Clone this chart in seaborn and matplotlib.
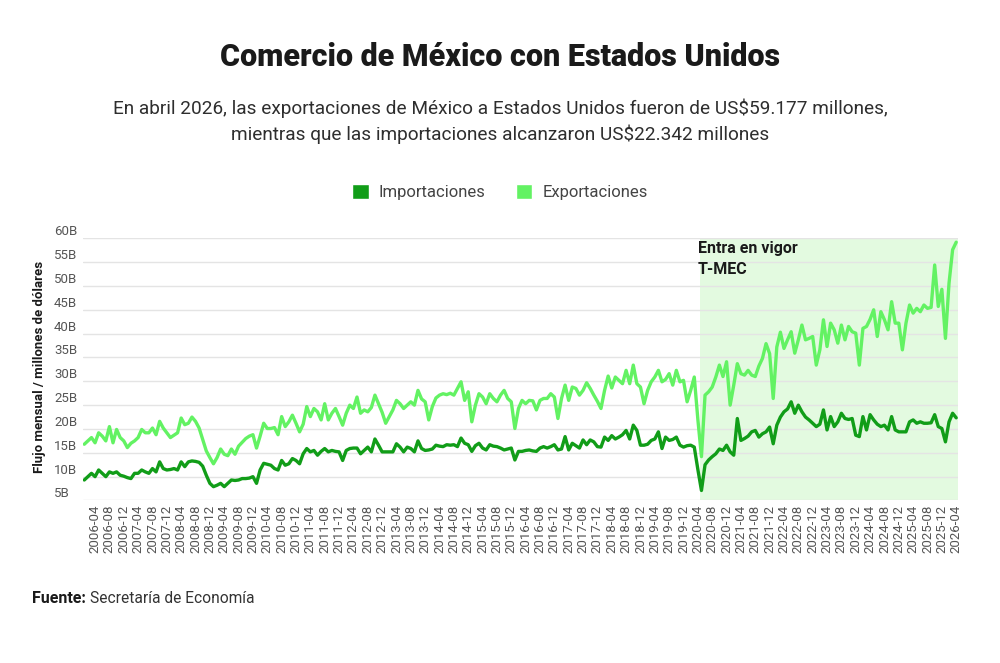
import matplotlib
matplotlib.use("Agg")

import pandas as pd

import matplotlib.pyplot as plt

import seaborn as sns

from matplotlib.patches import Patch


# ==========================
# DATOS (miles de millones de dólares por mes)
# ==========================

meses = pd.period_range("2006-01", "2026-04", freq="M").strftime("%Y-%m").tolist()

importaciones = [
    9.3, 10.0, 10.7, 10.0, 11.4, 10.7, 10.0, 11.0, 10.7, 11.0, 10.3, 10.1,  # 2006
    9.8, 9.6, 10.7, 10.7, 11.4, 11.0, 10.7, 11.7, 11.0, 13.1, 11.7, 11.4,  # 2007
    11.5, 11.7, 11.4, 13.1, 12.1, 13.1, 13.3, 13.2, 13.0, 12.2, 10.3, 8.6,  # 2008
    7.9, 8.2, 8.6, 7.9, 8.6, 9.3, 9.2, 9.3, 9.6, 9.6, 9.7, 10.0,  # 2009
    8.6, 11.4, 12.8, 12.6, 12.4, 11.7, 11.4, 13.4, 12.4, 12.7, 13.8, 13.4,  # 2010
    12.7, 14.8, 15.9, 15.2, 15.5, 14.5, 15.3, 15.9, 15.2, 15.5, 15.3, 15.2,  # 2011
    13.4, 15.5, 15.9, 16.0, 16.0, 14.8, 15.5, 16.2, 15.2, 17.9, 16.6, 15.2,  # 2012
    15.2, 15.2, 15.2, 16.9, 16.2, 15.2, 16.2, 15.9, 15.2, 17.5, 15.9, 15.5,  # 2013
    15.6, 15.8, 16.6, 16.4, 16.3, 16.7, 16.6, 16.7, 16.3, 18.1, 17.0, 16.7,  # 2014
    15.3, 16.5, 17.0, 16.0, 15.6, 16.7, 16.4, 16.3, 16.0, 15.6, 15.8, 16.0,  # 2015
    13.5, 15.3, 15.3, 15.5, 15.6, 15.4, 15.3, 16.0, 16.3, 16.0, 16.3, 16.7,  # 2016
    15.6, 15.8, 18.4, 15.6, 17.0, 16.5, 16.0, 17.7, 16.7, 17.7, 17.3, 16.3,  # 2017
    16.2, 18.3, 17.6, 18.6, 17.9, 18.3, 18.8, 19.7, 17.9, 20.8, 19.7, 16.6,  # 2018
    16.6, 16.8, 17.6, 17.9, 19.4, 15.9, 18.3, 17.6, 17.8, 18.3, 16.6, 16.2,  # 2019
    16.5, 16.6, 16.2, 11.5, 7.1, 12.5, 13.5, 14.2, 14.8, 15.8, 15.5, 16.6,  # 2020
    15.2, 14.5, 22.2, 17.6, 18.0, 18.5, 19.4, 19.7, 18.3, 19.0, 19.4, 20.4,  # 2021
    16.9, 20.8, 22.5, 23.6, 24.2, 25.7, 23.3, 25.0, 23.6, 22.5, 21.9, 21.2,  # 2022
    20.5, 21.0, 24.0, 19.8, 22.6, 20.5, 21.5, 23.3, 22.2, 22.0, 22.2, 18.7,  # 2023
    18.4, 22.6, 19.8, 23.0, 21.9, 21.0, 20.5, 20.8, 19.8, 22.6, 19.8, 19.4,  # 2024
    19.4, 19.4, 21.5, 21.9, 21.2, 21.5, 21.2, 21.2, 21.3, 23.0, 20.5, 20.1,  # 2025
    17.3, 21.5, 23.3, 22.342,  # 2026
]

exportaciones = [
    16.8, 17.5, 18.2, 17.1, 19.2, 18.5, 17.5, 20.5, 17.1, 19.9, 18.2, 17.5,  # 2006
    16.1, 17.0, 17.5, 18.2, 19.9, 19.2, 19.2, 20.2, 18.8, 21.6, 20.2, 19.2,  # 2007
    18.2, 18.7, 19.2, 22.3, 20.9, 21.2, 22.5, 21.6, 20.2, 17.8, 15.4, 14.0,  # 2008
    12.7, 14.0, 15.8, 14.7, 14.4, 15.8, 14.7, 16.4, 17.2, 18.0, 18.5, 18.8,  # 2009
    16.0, 18.5, 21.2, 20.1, 20.1, 20.3, 18.8, 22.6, 20.5, 21.5, 22.9, 21.2,  # 2010
    19.4, 21.0, 24.7, 22.6, 24.3, 23.6, 21.9, 25.3, 21.9, 23.3, 24.3, 22.6,  # 2011
    20.8, 23.3, 25.0, 24.3, 26.7, 23.3, 24.0, 23.6, 24.5, 27.1, 25.3, 23.5,  # 2012
    21.2, 22.6, 24.0, 26.0, 25.3, 24.3, 25.0, 25.7, 25.0, 28.1, 26.3, 25.7,  # 2013
    21.9, 24.7, 26.5, 27.1, 27.4, 27.2, 27.5, 27.1, 28.5, 29.9, 26.0, 27.8,  # 2014
    21.5, 25.0, 27.4, 26.7, 25.3, 27.4, 26.4, 25.7, 27.1, 28.1, 26.4, 25.7,  # 2015
    20.1, 24.3, 26.0, 25.3, 26.0, 25.9, 24.0, 26.0, 26.4, 26.4, 27.4, 26.7,  # 2016
    22.2, 26.4, 29.2, 26.0, 28.8, 28.5, 27.1, 28.1, 29.7, 28.5, 27.1, 25.8,  # 2017
    24.3, 28.1, 31.1, 28.6, 30.9, 30.2, 29.5, 32.3, 29.5, 33.4, 29.5, 28.8,  # 2018
    25.3, 28.1, 29.9, 30.9, 32.3, 29.9, 30.4, 31.6, 29.2, 32.3, 29.9, 30.2,  # 2019
    25.7, 28.1, 30.9, 22.0, 14.2, 27.1, 27.8, 28.8, 30.9, 33.4, 31.0, 34.1,  # 2020
    25.0, 29.2, 33.7, 31.6, 31.3, 32.3, 31.3, 31.0, 33.2, 34.8, 37.9, 35.8,  # 2021
    26.4, 37.2, 40.3, 36.9, 38.7, 40.4, 35.9, 38.7, 41.8, 38.7, 39.0, 39.4,  # 2022
    33.4, 36.6, 42.9, 37.3, 42.2, 40.8, 38.0, 41.8, 38.7, 41.5, 40.4, 40.1,  # 2023
    33.4, 41.1, 41.5, 43.0, 45.0, 39.4, 44.6, 42.9, 40.8, 46.7, 42.2, 42.2,  # 2024
    36.6, 42.2, 46.0, 44.3, 45.3, 44.6, 46.0, 45.3, 45.5, 54.4, 45.7, 49.3,  # 2025
    39.0, 50.6, 57.6, 59.177,  # 2026
]

marcas_y = [5, 10, 15, 20, 25, 30, 35, 40, 45, 50, 55, 60]

inicio_tmec = "2020-05"

color_imp = "#119d18"
color_exp = "#63f263"
color_zona = "#e3fae0"


# ==========================
# TABLA LARGA PARA SEABORN
# ==========================

datos = pd.DataFrame({
    "mes": range(len(meses)),
    "Importaciones": importaciones,
    "Exportaciones": exportaciones,
})

largo = datos.melt(

    id_vars="mes",

    var_name="serie",

    value_name="valor"

)


# ==========================
# FIGURA
# ==========================

sns.set_theme(style="white")

plt.rcParams["font.family"] = ["Roboto", "DejaVu Sans"]

fig = plt.figure(figsize=(10, 6.63), dpi=100)

ax = fig.add_axes([0.0825, 0.2451, 0.8755, 0.3955])

ax.axvspan(

    meses.index(inicio_tmec) - 0.5,

    len(meses) - 0.5,

    color=color_zona,

    zorder=0.2,

    linewidth=0

)

sns.lineplot(

    data=largo,

    x="mes",

    y="valor",

    hue="serie",

    palette={"Importaciones": color_imp, "Exportaciones": color_exp},

    linewidth=2.4,

    legend=False,

    ax=ax

)

ax.set_xlim(-0.5, len(meses) - 0.5)

ax.set_ylim(5, 60)

ax.set_xlabel("")

ax.set_ylabel("")

ax.set_axisbelow(True)

ax.yaxis.grid(True, color="#e4e4e4", linewidth=1)

ax.xaxis.grid(False)

sns.despine(ax=ax, left=True, bottom=True)

# marcas del eje y: texto sobre la línea, alineado a la izquierda
ax.set_yticks(marcas_y)

ax.set_yticklabels(

    [f"{v}B" for v in marcas_y],

    ha="left",

    va="bottom",

    fontsize=9.5,

    color="#555555"

)

ax.tick_params(axis="y", length=0, pad=20.5)

# marcas del eje x: cada cuatro meses desde 2006-04
posiciones = list(range(3, len(meses), 4))

ax.set_xticks(posiciones)

ax.set_xticklabels(

    [meses[i] for i in posiciones],

    rotation=90,

    fontsize=9.5,

    color="#555555"

)

ax.tick_params(axis="x", length=0, pad=3)

ax.text(

    meses.index(inicio_tmec) - 1.0,

    59.4,

    "Entra en vigor\nT-MEC",

    ha="left",

    va="top",

    fontsize=11.5,

    fontweight="bold",

    color="#1a1a1a",

    linespacing=1.45

)


# ==========================
# TEXTOS
# ==========================

fig.text(

    0.5, 0.914,

    "Comercio de México con Estados Unidos",

    ha="center", va="center",

    fontsize=22, fontweight="black",

    color="#1a1a1a"

)

fig.text(

    0.5, 0.817,

    "En abril 2026, las exportaciones de México a Estados Unidos fueron de US$59.177 millones,\n"
    "mientras que las importaciones alcanzaron US$22.342 millones",

    ha="center", va="center",

    fontsize=13.7,

    color="#2e2e2e",

    linespacing=1.45

)

fig.legend(

    handles=[

        Patch(facecolor=color_imp, label="Importaciones"),

        Patch(facecolor=color_exp, label="Exportaciones"),

    ],

    loc="center",

    bbox_to_anchor=(0.5, 0.7104),

    ncol=2,

    frameon=False,

    fontsize=12,

    labelcolor="#444444",

    handlelength=1.0,

    handleheight=1.0,

    handletextpad=0.6,

    columnspacing=1.8

)

fig.text(

    0.040, 0.446,

    "Flujo mensual / millones de dólares",

    rotation=90,

    ha="center", va="center",

    fontsize=9.5, fontweight="bold",

    color="#1a1a1a"

)

fuente = fig.text(

    0.032, 0.098,

    "Fuente:",

    ha="left", va="center",

    fontsize=11.5, fontweight="bold",

    color="#1a1a1a"

)

# el texto normal empieza justo después de "Fuente:"
render = fig.canvas.get_renderer()

fin_fuente = fuente.get_window_extent(render).x1 / fig.bbox.width

fig.text(

    fin_fuente + 0.004, 0.098,

    "Secretaría de Economía",

    ha="left", va="center",

    fontsize=11.2,

    color="#333333"

)

fig.savefig("out.png", dpi=100)

plt.close(fig)
